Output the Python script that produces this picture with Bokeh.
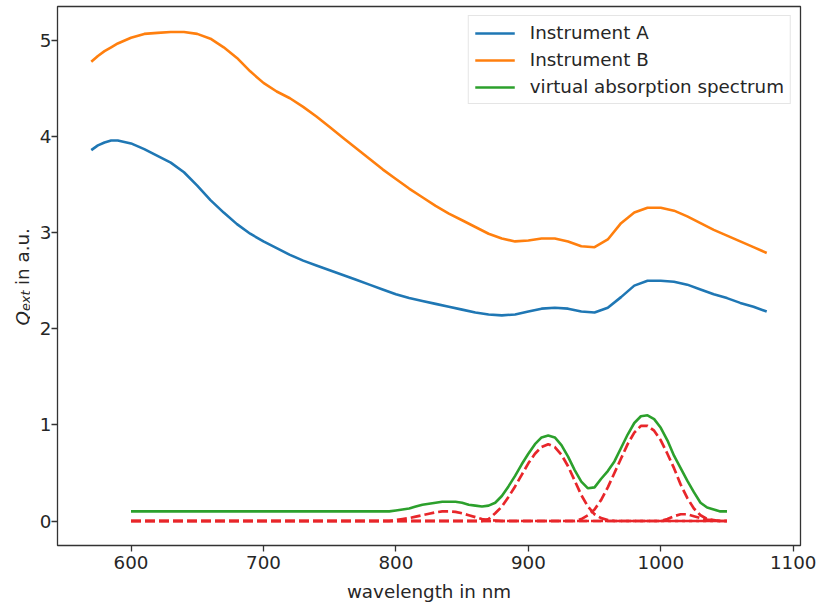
import math
from bokeh.plotting import figure
from bokeh.models import Range1d, Legend, LegendItem, FixedTicker
from bokeh.core.properties import value
from bokeh.layouts import row
from bokeh.embed import file_html
from bokeh.resources import INLINE

# ---------------- data ----------------
wl_inst = [570, 575, 580, 585, 590, 600, 610, 620, 630, 640, 650, 660, 670, 680, 690,
           700, 710, 720, 730, 740, 750, 760, 770, 780, 790, 800, 810, 820, 830, 840,
           850, 860, 870, 880, 890, 900, 910, 920, 930, 940, 950, 960, 970, 980, 990,
           1000, 1010, 1020, 1030, 1040, 1050, 1060, 1070, 1080]
inst_a = [3.86, 3.91, 3.94, 3.96, 3.96, 3.93, 3.87, 3.80, 3.73, 3.63, 3.49, 3.34, 3.21, 3.09, 2.99,
          2.91, 2.84, 2.77, 2.71, 2.66, 2.61, 2.56, 2.51, 2.46, 2.41, 2.36, 2.32, 2.29, 2.26, 2.23,
          2.20, 2.17, 2.15, 2.14, 2.15, 2.18, 2.21, 2.22, 2.21, 2.18, 2.17, 2.22, 2.33, 2.45, 2.50,
          2.50, 2.49, 2.46, 2.41, 2.36, 2.32, 2.27, 2.23, 2.18]
inst_b = [4.78, 4.84, 4.89, 4.93, 4.97, 5.03, 5.07, 5.08, 5.09, 5.09, 5.07, 5.02, 4.93, 4.82, 4.68,
          4.56, 4.47, 4.40, 4.31, 4.21, 4.10, 3.99, 3.88, 3.77, 3.66, 3.56, 3.46, 3.37, 3.28, 3.20,
          3.13, 3.06, 2.99, 2.94, 2.91, 2.92, 2.94, 2.94, 2.91, 2.86, 2.85, 2.93, 3.10, 3.21, 3.26,
          3.26, 3.23, 3.17, 3.10, 3.03, 2.97, 2.91, 2.85, 2.79]

wl_abs = [600, 700, 780, 790, 795, 800, 805, 810, 815, 820, 825, 830, 835, 840, 845, 850, 855,
          860, 865, 870, 875, 880, 885, 890, 895, 900, 905, 910, 915, 920, 925, 930, 935, 940,
          945, 950, 955, 960, 965, 970, 975, 980, 985, 990, 995, 1000, 1005, 1010, 1015, 1020,
          1025, 1030, 1035, 1040, 1045, 1050]
virtual = [0.10, 0.10, 0.10, 0.10, 0.10, 0.11, 0.12, 0.13, 0.15, 0.17, 0.18, 0.19, 0.20, 0.20, 0.20, 0.19, 0.17,
           0.16, 0.15, 0.16, 0.19, 0.26, 0.36, 0.47, 0.59, 0.70, 0.80, 0.87, 0.89, 0.87, 0.79, 0.67, 0.53, 0.41,
           0.34, 0.35, 0.44, 0.52, 0.62, 0.76, 0.90, 1.02, 1.09, 1.10, 1.06, 0.97, 0.84, 0.68, 0.55, 0.42,
           0.30, 0.19, 0.14, 0.12, 0.10, 0.10]
band_1 = [0, 0, 0, 0, 0, 0.01, 0.02, 0.03, 0.045, 0.06, 0.075, 0.09, 0.10, 0.10, 0.095, 0.08, 0.06,
          0.04, 0.02, 0.01, 0.005, 0, 0, 0, 0, 0, 0, 0, 0, 0, 0, 0, 0, 0,
          0, 0, 0, 0, 0, 0, 0, 0, 0, 0, 0, 0, 0, 0, 0, 0,
          0, 0, 0, 0, 0, 0]
band_2 = [0, 0, 0, 0, 0, 0, 0, 0, 0, 0, 0, 0, 0, 0, 0, 0, 0,
          0, 0, 0.02, 0.08, 0.15, 0.25, 0.36, 0.48, 0.60, 0.70, 0.77, 0.80, 0.77, 0.69, 0.57, 0.42, 0.27,
          0.15, 0.07, 0.03, 0.01, 0, 0, 0, 0, 0, 0, 0, 0, 0, 0, 0, 0,
          0, 0, 0, 0, 0, 0]
band_3 = [0, 0, 0, 0, 0, 0, 0, 0, 0, 0, 0, 0, 0, 0, 0, 0, 0,
          0, 0, 0, 0, 0, 0, 0, 0, 0, 0, 0, 0, 0, 0, 0, 0, 0.02,
          0.06, 0.12, 0.22, 0.35, 0.50, 0.65, 0.80, 0.92, 0.99, 0.99, 0.94, 0.84, 0.70, 0.55, 0.38, 0.24,
          0.13, 0.06, 0.02, 0.01, 0, 0]
band_4 = [0, 0, 0, 0, 0, 0, 0, 0, 0, 0, 0, 0, 0, 0, 0, 0, 0,
          0, 0, 0, 0, 0, 0, 0, 0, 0, 0, 0, 0, 0, 0, 0, 0, 0,
          0, 0, 0, 0, 0, 0, 0, 0, 0, 0, 0, 0, 0.02, 0.05, 0.07, 0.07,
          0.05, 0.03, 0.015, 0.005, 0, 0]
bands = [band_1, band_2, band_3, band_4]

x_ticks = [600, 700, 800, 900, 1000, 1100]
y_ticks = [0, 1, 2, 3, 4, 5]
series_labels = ["Instrument A", "Instrument B", "virtual absorption spectrum"]
x_title = "wavelength in nm"
y_title_parts = ["Q", "ext", "in a.u."]

# ---------------- style ----------------
FONT = "DejaVu Sans"
FS = "18.3px"
TXT = "#262626"
BLUE, ORANGE, GREEN, RED = "#1f77b4", "#ff7f0e", "#2ca02c", "#e8262a"

p = figure(width=788, height=604, output_backend="svg", toolbar_location=None,
           x_range=Range1d(544.5, 1105.5), y_range=Range1d(-0.255, 5.355),
           min_border_left=27, min_border_right=18, min_border_top=6, min_border_bottom=59)
p.grid.visible = False
p.outline_line_color = "#333333"
p.outline_line_width = 1.3
p.background_fill_color = "white"
p.border_fill_color = "white"

for ax in (p.xaxis, p.yaxis):
    ax.axis_line_color = None
    ax.major_tick_out = 6
    ax.major_tick_in = 0
    ax.minor_tick_line_color = None
    ax.major_tick_line_color = "#333333"
    ax.major_tick_line_width = 1.3
    ax.major_label_text_font = FONT
    ax.major_label_text_font_size = FS
    ax.major_label_text_color = TXT
p.xaxis.ticker = FixedTicker(ticks=x_ticks)
p.yaxis.ticker = FixedTicker(ticks=y_ticks)
p.xaxis.major_label_standoff = 4
p.yaxis.major_label_standoff = 0
p.xaxis.axis_label = x_title
p.xaxis.axis_label_text_font = FONT
p.xaxis.axis_label_text_font_size = FS
p.xaxis.axis_label_text_font_style = "normal"
p.xaxis.axis_label_text_color = TXT
p.xaxis.axis_label_standoff = 9

ra = p.line(wl_inst, inst_a, line_color=BLUE, line_width=2.6)
rb = p.line(wl_inst, inst_b, line_color=ORANGE, line_width=2.6)
rv = p.line(wl_abs, virtual, line_color=GREEN, line_width=2.6)
for b in bands:
    p.line(wl_abs, b, line_color=RED, line_width=2.7, line_dash="10 4")

legend = Legend(items=[LegendItem(label=series_labels[0], renderers=[ra]),
                       LegendItem(label=series_labels[1], renderers=[rb]),
                       LegendItem(label=series_labels[2], renderers=[rv])],
                location="top_right", margin=9, padding=6, spacing=6,
                glyph_width=40, glyph_height=20, label_height=20, label_standoff=15,
                label_text_font=FONT, label_text_font_size=FS, label_text_color=TXT,
                border_line_color="#cccccc", border_line_width=1.2,
                background_fill_color="white", background_fill_alpha=0.8)
p.add_layout(legend)

# ---- narrow strip on the left holding the rotated y-axis title (Q_ext in a.u.) ----
# the row aligns its frame with the main frame (page y 6..545, 539 px tall),
# so its ranges are pixels from the frame's bottom-left corner
t = figure(width=30, height=604, output_backend="svg", toolbar_location=None,
           x_range=Range1d(0, 30), y_range=Range1d(0, 539),
           x_axis_location=None, y_axis_location=None,
           min_border_left=0, min_border_right=0, min_border_top=6, min_border_bottom=59)
t.grid.visible = False
t.outline_line_color = None
t.background_fill_color = "white"
t.border_fill_color = "white"
ang = math.pi / 2
t.text(x=[22], y=[220], text=[y_title_parts[0]], angle=ang,
       text_font=value(FONT), text_font_style="italic", text_font_size=FS,
       text_color=TXT, text_align="left", text_baseline="alphabetic")
t.text(x=[25], y=[234.5], text=[y_title_parts[1]], angle=ang,
       text_font=value(FONT), text_font_style="italic", text_font_size="12.8px",
       text_color=TXT, text_align="left", text_baseline="alphabetic")
t.text(x=[22], y=[260.5], text=[y_title_parts[2]], angle=ang,
       text_font=value(FONT), text_font_size=FS,
       text_color=TXT, text_align="left", text_baseline="alphabetic")

layout = row(t, p, spacing=0)
open("out.html", "w").write(file_html(layout, INLINE))
